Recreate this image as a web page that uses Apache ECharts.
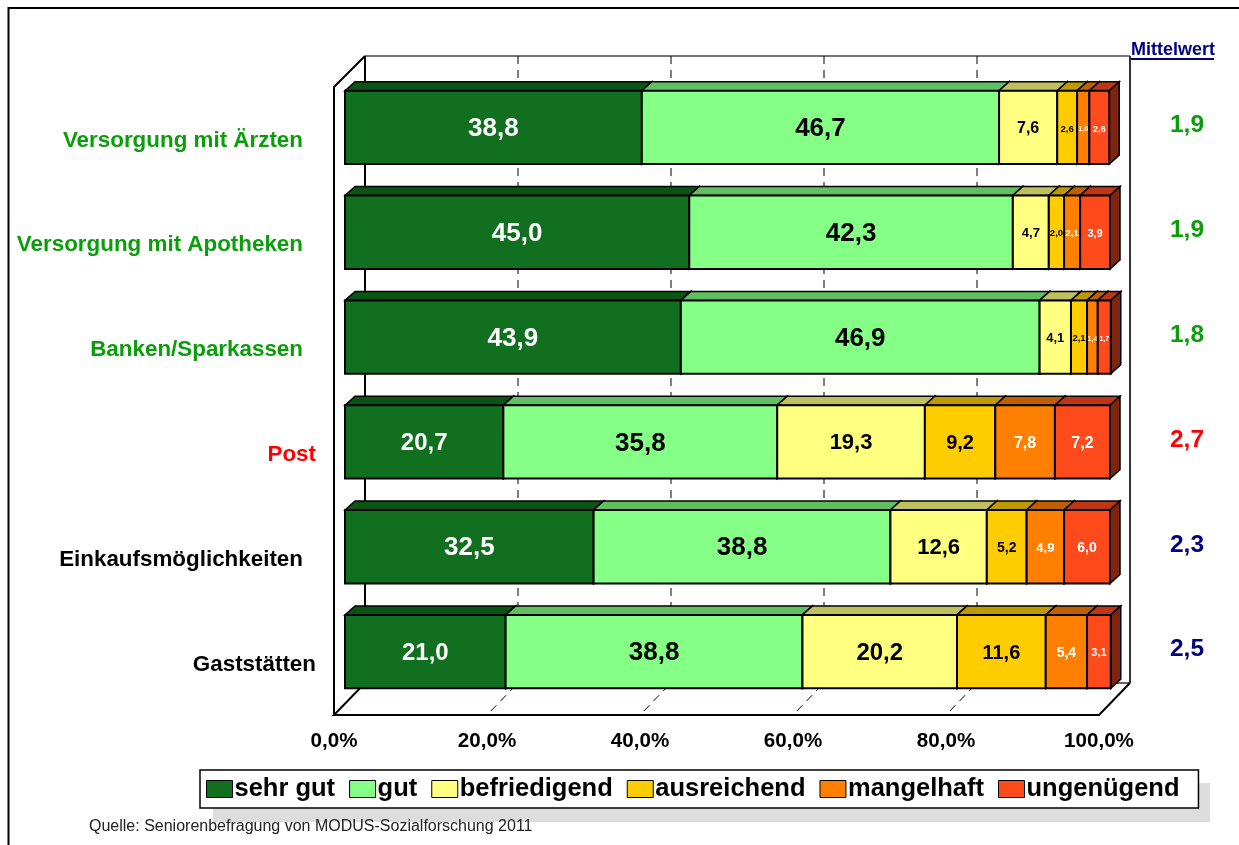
<!DOCTYPE html>
<html>
<head>
<meta charset="utf-8">
<script src="https://cdn.jsdelivr.net/npm/echarts@6/dist/echarts.min.js"></script>
<style>
html,body{margin:0;padding:0;background:#fff;}
#chart{width:1239px;height:845px;}
</style>
</head>
<body>
<div id="chart"></div>
<script>
var categories = ['Versorgung mit Ärzten','Versorgung mit Apotheken','Banken/Sparkassen','Post','Einkaufsmöglichkeiten','Gaststätten'];
var meanValues = [1.9,1.9,1.8,2.7,2.3,2.5];
var sehrGut = [38.8,45.0,43.9,20.7,32.5,21.0];
var gut = [46.7,42.3,46.9,35.8,38.8,38.8];
var befriedigend = [7.6,4.7,4.1,19.3,12.6,20.2];
var ausreichend = [2.6,2.0,2.1,9.2,5.2,11.6];
var mangelhaft = [1.6,2.1,1.4,7.8,4.9,5.4];
var ungenuegend = [2.6,3.9,1.7,7.2,6.0,3.1];
var axisTicks = [0,20,40,60,80,100];

var seriesNames = ['sehr gut','gut','befriedigend','ausreichend','mangelhaft','ungenügend'];
var seriesValues = [sehrGut,gut,befriedigend,ausreichend,mangelhaft,ungenuegend];
var frontColors = ['#107020','#85ff85','#ffff80','#ffcc00','#ff8000','#ff4a1c'];
var topColors = ['#0b5514','#60bf60','#bfbf60','#bf9900','#bf6000','#bf3614'];
var sideColors = ['#083c0e','#408040','#80803f','#806600','#804000','#7f240e'];
var labelColors = ['#fff','#000','#000','#000','#fff','#fff'];

// depth of the bars and of the wall box, in pixels
var BAR_SHIFT = 11, BAR_DX = 10, BAR_DY = 9, WALL_DX = 31, WALL_DY = 32;
var FONT = '"Liberation Sans", Arial, sans-serif';

function labelSize(v){
	if(v >= 30) return 26;
	if(v >= 20) return 24;
	if(v >= 12) return 22;
	if(v >= 9) return 20;
	if(v >= 7) return 16;
	if(v >= 5) return 14;
	if(v >= 4) return 13;
	if(v >= 3) return 11;
	if(v >= 2) return 9.5;
	return 7;
}
function meanColor(m){
	if(m < 2) return '#0a9e0a';
	if(m >= 2.7) return '#ff0000';
	return '#000080';
}
function commaText(v,d){
	return v.toFixed(d).replace('.',',');
}

function renderSegment(params, api){
	var s = params.seriesIndex - 2;
	var start = api.value(0), end = api.value(1), row = api.value(2);
	var p0 = api.coord([start,row]), p1 = api.coord([end,row]);
	var h = api.size([0,1])[1]*0.7;
	var x0 = p0[0]+BAR_SHIFT, x1 = p1[0]+BAR_SHIFT, y0 = p0[1]-h/2, y1 = y0+h;
	var line = {stroke:'#000',lineWidth:2};
	return {
		type:'group',
		children:[
			{type:'polygon',shape:{points:[[x0,y0],[x0+BAR_DX,y0-BAR_DY],[x1+BAR_DX,y0-BAR_DY],[x1,y0]]},
				style:{fill:topColors[s],stroke:line.stroke,lineWidth:1.5}},
			{type:'polygon',shape:{points:[[x1,y0],[x1+BAR_DX,y0-BAR_DY],[x1+BAR_DX,y1-BAR_DY],[x1,y1]]},
				style:{fill:sideColors[s],stroke:line.stroke,lineWidth:1.5}},
			{type:'rect',shape:{x:x0,y:y0,width:x1-x0,height:h},
				style:{fill:frontColors[s],stroke:line.stroke,lineWidth:line.lineWidth}},
			{type:'text',style:{x:(x0+x1)/2,y:(y0+y1)/2+1.5,text:commaText(end-start,1),fill:labelColors[s],
				font:'bold '+labelSize(end-start)+'px '+FONT,align:'center',verticalAlign:'middle'}}
		]
	};
}

function renderWallFrame(params, api){
	var c = params.coordSys;
	var left = api.coord([0,0])[0], right = api.coord([100,0])[0];
	var floorY = c.y+c.height+BAR_SHIFT, backFloorY = floorY-WALL_DY;
	var topY = c.y-19, backLeft = left+WALL_DX, backRight = right+WALL_DX;
	var black = {stroke:'#000',lineWidth:2,fill:null};
	return {
		type:'group',
		children:[
			{type:'polyline',shape:{points:[[left,floorY],[left,topY+WALL_DY-1],[backLeft,topY]]},style:black},
			{type:'line',shape:{x1:backLeft,y1:topY,x2:backRight,y2:topY},style:{stroke:'#777',lineWidth:2}},
			{type:'line',shape:{x1:backLeft,y1:topY,x2:backLeft,y2:backFloorY},style:black},
			{type:'line',shape:{x1:backRight,y1:topY,x2:backRight,y2:backFloorY},style:{stroke:'#333',lineWidth:2}},
			{type:'line',shape:{x1:backLeft,y1:backFloorY,x2:backRight,y2:backFloorY},style:{stroke:'#333',lineWidth:1.5}},
			{type:'polyline',shape:{points:[[backLeft,backFloorY],[left,floorY],[right,floorY],[backRight,backFloorY]]},style:black}
		]
	};
}

function renderGridLine(params, api){
	var c = params.coordSys;
	var x = api.coord([api.value(0),0])[0];
	var floorY = c.y+c.height+BAR_SHIFT, backFloorY = floorY-WALL_DY;
	var dash = {stroke:'#000',lineWidth:1,lineDash:[8,6],fill:null};
	return {
		type:'polyline',
		shape:{points:[[x+WALL_DX,c.y-19],[x+WALL_DX,backFloorY],[x,floorY]]},
		style:dash
	};
}

function renderMean(params, api){
	var m = api.value(0), row = api.value(1);
	var p = api.coord([100,row]);
	return {
		type:'text',
		style:{x:p[0]+88,y:p[1]-2,text:commaText(m,1),fill:meanColor(m),
			font:'bold 24.5px '+FONT,align:'center',verticalAlign:'middle'}
	};
}

var series = [
	{type:'custom',name:'wand',silent:true,z:1,renderItem:renderWallFrame,clip:false,
		data:[[0,0]],encode:{x:0,y:1}},
	{type:'custom',name:'gitter',silent:true,z:1,renderItem:renderGridLine,clip:false,
		data:axisTicks.slice(1,5).map(function(t){return [t,0];}),encode:{x:0,y:1}}
];
seriesNames.forEach(function(name,s){
	series.push({
		type:'custom',
		name:name,
		z:2,
		clip:false,
		renderItem:renderSegment,
		itemStyle:{color:frontColors[s]},
		encode:{x:[0,1],y:2},
		data:categories.map(function(c,row){
			var start = 0;
			for(var i=0;i<s;i++){ start += seriesValues[i][row]; }
			return [start,start+seriesValues[s][row],row];
		})
	});
});
series.push({type:'custom',name:'mittelwert',z:3,clip:false,renderItem:renderMean,
	data:meanValues.map(function(m,row){return [m,row];}),encode:{x:0,y:1}});

var catFont = {fontWeight:'bold',fontSize:22.4,fontFamily:FONT};
var option = {
	animation:false,
	backgroundColor:'#fff',
	textStyle:{fontFamily:FONT},
	grid:{left:334,width:765,top:75,height:629,containLabel:false},
	xAxis:{
		type:'value',min:0,max:100,interval:20,
		axisLine:{show:false},axisTick:{show:false},splitLine:{show:false},
		axisLabel:{
			margin:27,
			color:'#000',fontWeight:'bold',fontSize:20.6,fontFamily:FONT,
			formatter:function(v){return commaText(v,1)+'%';}
		}
	},
	yAxis:{
		type:'category',inverse:true,data:categories,
		axisLine:{show:false},axisTick:{show:false},splitLine:{show:false},
		axisLabel:{
			margin:18,interval:0,
			formatter:function(v,i){
				var m = meanValues[i];
				var key = m < 2 ? 'g' : (m >= 2.7 ? 'r' : 'k');
				return '{'+key+(v.length > 11 ? 'Wide' : '')+'|'+v+'}';
			},
			rich:{
				g:Object.assign({color:'#0a9e0a',padding:[26,0,0,0]},catFont),
				gWide:Object.assign({color:'#0a9e0a',padding:[26,13,0,0]},catFont),
				r:Object.assign({color:'#ff0000',padding:[26,0,0,0]},catFont),
				k:Object.assign({color:'#000',padding:[26,0,0,0]},catFont),
				kWide:Object.assign({color:'#000',padding:[26,13,0,0]},catFont)
			}
		}
	},
	legend:{
		data:seriesNames,
		icon:'rect',
		left:200,top:770,
		itemWidth:26,itemHeight:17,itemGap:14,
		padding:[6,19,6,6],
		backgroundColor:'#fff',borderColor:'#000',borderWidth:1.5,
		itemStyle:{borderColor:'#000',borderWidth:1},
		textStyle:{color:'#000',fontWeight:'bold',fontSize:25.5,fontFamily:FONT,padding:[0,0,0,-3]}
	},
	graphic:[
		{type:'polyline',shape:{points:[[8.5,845],[8.5,8],[1239,8]]},style:{stroke:'#000',lineWidth:2,fill:null},z:0},
		{type:'rect',shape:{x:213,y:783,width:997,height:39},style:{fill:'#dddddd'},z:0},
		{type:'text',left:1131,top:41.5,style:{text:'Mittelwert',fill:'#000080',font:'bold 18px '+FONT},z:5},
		{type:'line',shape:{x1:1131,y1:59,x2:1214,y2:59},style:{stroke:'#000080',lineWidth:2},z:5},
		{type:'text',left:89,top:819,style:{text:'Quelle: Seniorenbefragung von MODUS-Sozialforschung 2011',fill:'#222',font:'16px '+FONT},z:5}
	],
	series:series
};
var myChart = echarts.init(document.getElementById('chart'));
myChart.setOption(option);
</script>
</body>
</html>
